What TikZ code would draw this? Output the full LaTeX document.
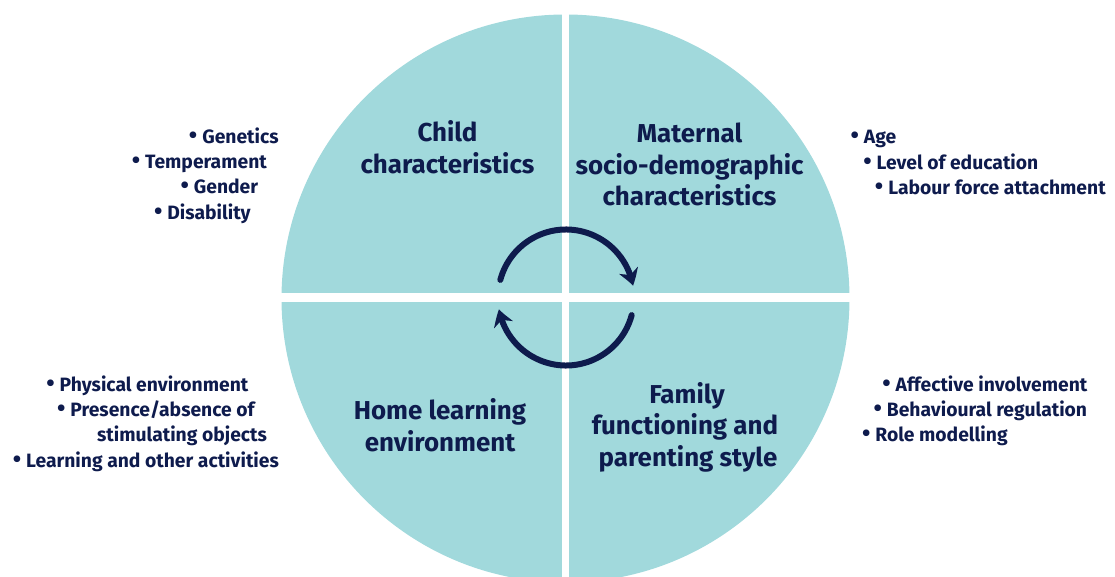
\documentclass[tikz,border=0pt]{standalone}
\usepackage{fontspec}
\setmainfont{Fira Sans}[Ligatures=NoCommon]
\usetikzlibrary{arrows.meta,bending}
\definecolor{quadfill}{HTML}{A1D9DC}
\definecolor{navy}{HTML}{0E1B4D}
\tikzset{
  title/.style={font=\fontsize{25.9}{31}\selectfont\bfseries, text=navy, anchor=base, inner sep=0pt},
  item/.style={font=\fontsize{19.3}{25}\selectfont\bfseries, text=navy, anchor=base, inner sep=0pt},
  cyclearrow/.style={draw=navy, line width=6pt, line cap=round,
    -{Stealth[length=16pt,width=20pt,inset=5pt,bend]}},
}
\newcommand{\bul}{\llap{\scalebox{1.25}{\textbullet}\hspace{5pt}}}
\begin{document}
\begin{tikzpicture}[x=1pt,y=-1pt]
\useasboundingbox (0,0) rectangle (1115,577);
\clip (0,0) rectangle (1115,577);
% quadrants
\fill[quadfill] (565.5,298.5) circle[radius=284pt];
\fill[white] (561.8,-10) rectangle (569.2,600);
\fill[white] (260,293.2) rectangle (870,301.8);
% cycle arrows
\coordinate (c) at (566,297.5);
\draw[cyclearrow] ([shift={(165:68pt)}]c) arc[start angle=165,end angle=10,radius=68pt];
\draw[cyclearrow] ([shift={(-15:68pt)}]c) arc[start angle=-15,end angle=-170,radius=68pt];
% titles
\node[title] (child1) at (447.5,142) {Child};
\node[title] (child2) at (447.5,173.5) {characteristics};
\node[title] (mat1) at (689.5,143) {Maternal};
\node[title] (mat2) at (689.5,174.5) {socio-demographic};
\node[title] (mat3) at (689.5,206) {characteristics};
\node[title] (home1) at (440,419.5) {Home learning};
\node[title] (home2) at (440,451) {environment};
\node[title] (fam1) at (687,403) {Family};
\node[title] (fam2) at (685,434.5) {functioning and};
\node[title] (fam3) at (688,466) {parenting style};
% child list
\node[item] (gen) at (240.5,144) {\bul Genetics};
\node[item] (temp) at (206,168.5) {\bul Temperament};
\node[item] (gend) at (226,194) {\bul Gender};
\node[item] (dis) at (209,219) {\bul Disability};
% maternal list
\node[item] (age) at (880,144) {\bul Age};
\node[item] (edu) at (957.5,169.5) {\bul Level of education};
\node[item] (lab) at (997,195) {\bul Labour force attachment};
% home list
\node[item] (phys) at (154,391) {\bul Physical environment};
\node[item] (pres) at (162.5,416) {\bul Presence/absence of};
\node[item] (stim) at (182,441) {stimulating objects};
\node[item] (learn) at (152.5,467) {\bul Learning and other activities};
% family list
\node[item] (aff) at (991.5,391) {\bul Affective involvement};
\node[item] (beh) at (987,416) {\bul Behavioural regulation};
\node[item] (role) at (941.5,441) {\bul Role modelling};
\end{tikzpicture}
\end{document}
